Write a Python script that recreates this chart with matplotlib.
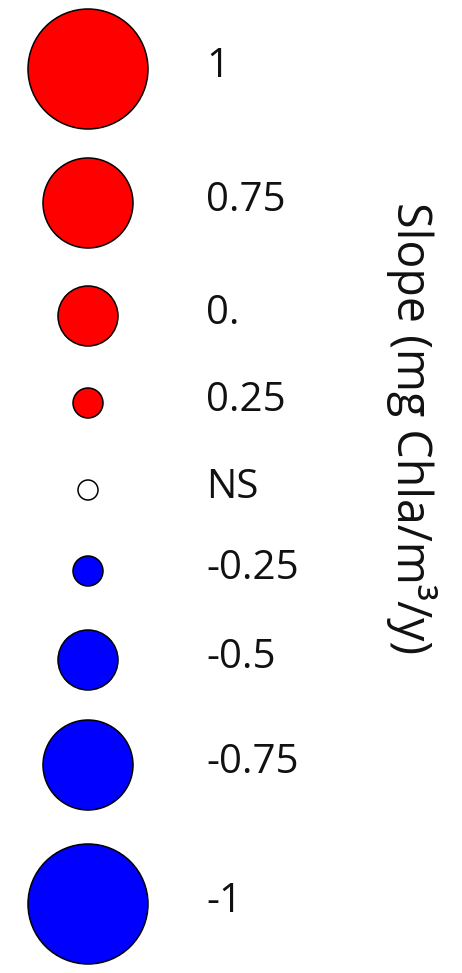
import matplotlib
matplotlib.use("Agg")
import matplotlib.pyplot as plt
from matplotlib.patches import Circle

# legend entries: slope value and label text
slopes = [1, 0.75, 0.5, 0.25, 0, -0.25, -0.5, -0.75, -1]
labels = ["1", "0.75", "0.", "0.25", "NS", "-0.25", "-0.5", "-0.75", "-1"]
title = "Slope (mg Chla/m³/y)"

# layout (pixels)
row_y = [69, 203, 316, 403, 490, 571, 660, 765, 904]
circle_x = 88
label_x = 206
max_r = 60
ns_r = 10

plt.rcParams["font.family"] = ["Open Sans", "DejaVu Sans"]

fig = plt.figure(figsize=(4.62, 9.73), dpi=100)
ax = fig.add_axes([0, 0, 1, 1])
ax.set_xlim(0, 462)
ax.set_ylim(973, 0)
ax.axis("off")

for s, lab, y in zip(slopes, labels, row_y):
    if s > 0:
        color = "#ff0000"
    elif s < 0:
        color = "#0000ff"
    else:
        color = "white"
    r = abs(s) * max_r if s != 0 else ns_r
    ax.add_patch(Circle((circle_x, y), r, facecolor=color, edgecolor="black", linewidth=1.1))
    ax.text(label_x, y - 2, lab, fontsize=29, va="center", ha="left", color="#111111")

ax.text(411, 428, title, fontsize=33.5, rotation=-90, va="center", ha="center", color="#111111")

fig.savefig("out.png", dpi=100)
